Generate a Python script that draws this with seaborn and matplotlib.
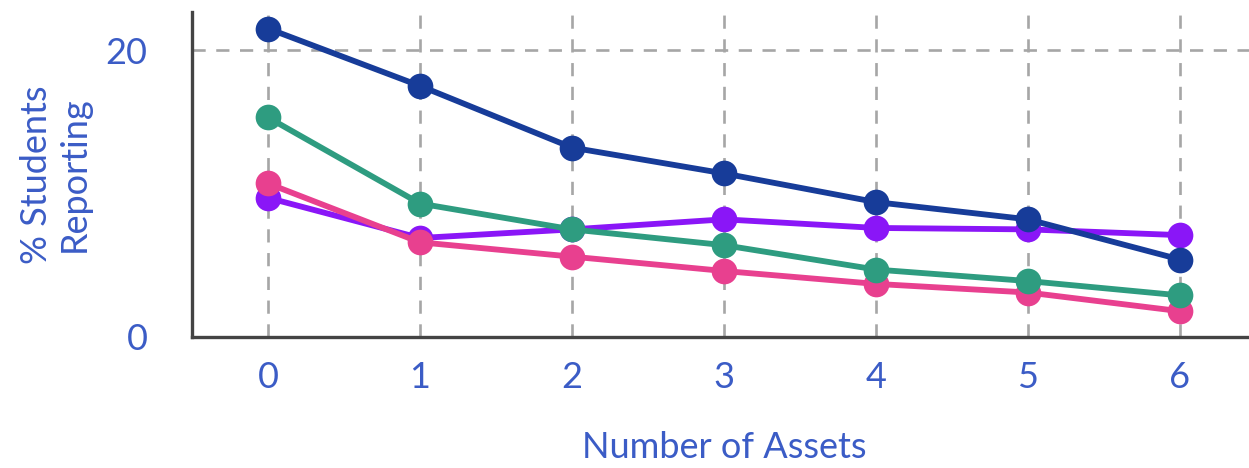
import matplotlib
matplotlib.use("Agg")
import matplotlib.pyplot as plt
import seaborn as sns
import pandas as pd

# values
assets = [0, 1, 2, 3, 4, 5, 6]
purple_vals = [9.7, 6.9, 7.5, 8.2, 7.6, 7.5, 7.1]
pink_vals = [10.7, 6.6, 5.6, 4.6, 3.7, 3.1, 1.8]
green_vals = [15.3, 9.3, 7.5, 6.4, 4.7, 3.9, 2.9]
navy_vals = [21.5, 17.5, 13.2, 11.4, 9.4, 8.2, 5.4]

series_names = ["purple", "pink", "green", "navy"]
colors = ["#8a16f7", "#e8408f", "#2e9c80", "#173c99"]

df = pd.concat([
    pd.DataFrame({"assets": assets, "pct": vals, "series": name})
    for name, vals in zip(series_names, [purple_vals, pink_vals, green_vals, navy_vals])
])

sns.set_style("white")
plt.rcParams["font.family"] = ["Lato", "DejaVu Sans"]
text_col = "#3b5cc6"

fig = plt.figure(figsize=(12.49, 4.68), dpi=100)
ax = fig.add_axes([192 / 1249, 1 - 337 / 468, 1064 / 1249, 325 / 468])

sns.lineplot(data=df, x="assets", y="pct", hue="series", hue_order=series_names,
             palette=colors, marker="o", markersize=18.5, markeredgewidth=0,
             linewidth=4.2, legend=False, ax=ax, zorder=3)

ax.set_xlim(-0.5, 6.5)
ax.set_ylim(0, 22.65)
ax.set_xticks(assets)
ax.set_yticks([0, 20])
ax.grid(True, linestyle=(0, (5, 4)), color="#a6a6a6", linewidth=1.9)
ax.set_axisbelow(True)

for side in ["top", "right"]:
    ax.spines[side].set_visible(False)
for side in ["left", "bottom"]:
    ax.spines[side].set_color("#444444")
    ax.spines[side].set_linewidth(2.4)
    ax.spines[side].set_zorder(4)

ax.tick_params(axis="both", length=0, labelsize=26, labelcolor=text_col)
ax.tick_params(axis="x", pad=17)
ax.tick_params(axis="y", pad=32)

ax.set_xlabel("Number of Assets", fontsize=26, color=text_col)
ax.xaxis.set_label_coords(0.5, -0.29)
ax.set_ylabel("% Students\nReporting", fontsize=26, color=text_col,
              linespacing=1.2)
ax.yaxis.set_label_coords(-0.095, 0.5)

fig.savefig("out.png", dpi=100)
